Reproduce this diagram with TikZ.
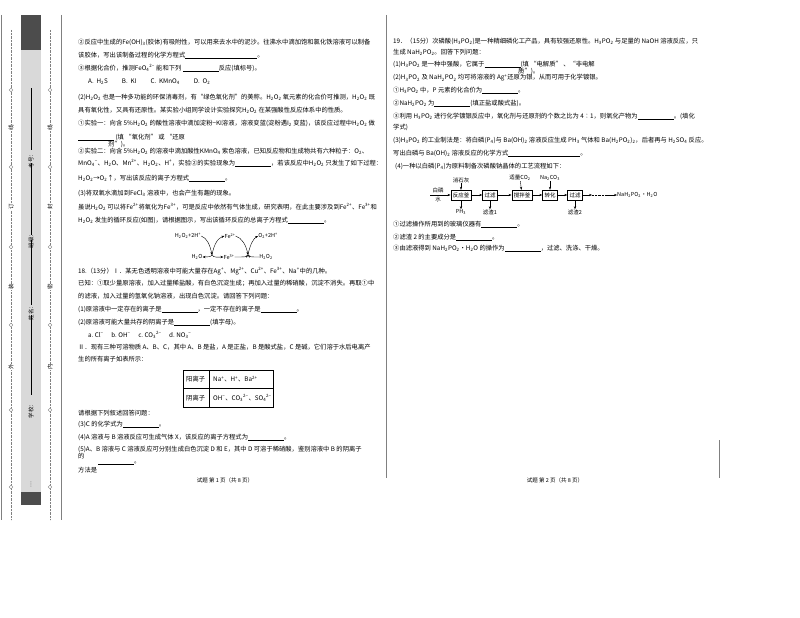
\documentclass[tikz,border=0pt]{standalone}
\usepackage{fontspec}
\setmainfont{Liberation Serif}
\newfontfamily\cjk{Noto Sans CJK SC}
\usetikzlibrary{arrows.meta}
\newcommand{\dn}[1]{\textsubscript{#1}}
\newcommand{\up}[1]{\textsuperscript{#1}}
\newcommand{\blank}{\rule[-1pt]{36pt}{0.4pt}}
\begin{document}
\begin{tikzpicture}[x=1pt,y=-1pt,
  tl/.style={anchor=west,inner sep=0pt,font=\cjk\fontsize{6.3}{7}\selectfont},
  sm/.style={inner sep=0pt,font=\cjk\fontsize{5.5}{6}\selectfont},
  fbox/.style={draw,inner sep=2pt,font=\cjk\fontsize{5.5}{6}\selectfont,minimum height=10pt},
  ar/.style={-{Stealth[length=3pt]},line width=0.4pt}]
\useasboundingbox (0,0) rectangle (800,618);
\fill[white] (0,0) rectangle (800,618);
% sidebar
\draw[gray,line width=0.6pt] (1,15) -- (1,520);
\fill[gray!30] (21,15) rectangle (41,505);
\fill[black!70] (21,15) rectangle (41,50);
\fill[black!70] (21,492) rectangle (41,505);
\draw[gray,line width=0.6pt] (61,15) -- (61,520);
\draw[densely dotted,gray] (11,30) -- (11,520);
\draw[densely dotted,gray] (50,30) -- (50,520);
\foreach \y in {90,167,247,325,410,487}{
  \node[draw,gray,circle,fill=white,inner sep=1.3pt] (cl\y) at (11,\y) {};
  \node[draw,gray,circle,fill=white,inner sep=1.3pt] (cr\y) at (50,\y) {};}
\foreach \y/\t in {128/线,207/订,287/装,367/外}{\node[sm,fill=white,rotate=90] (ll\y) at (11,\y) {\t};}
\foreach \y/\t in {128/线,207/封,287/密,367/内}{\node[sm,fill=white,rotate=90] (rl\y) at (50,\y) {\t};}
\foreach \a/\b in {88/150,163/235,240/305,315/395}{\draw[line width=0.7pt] (31,\a) -- (31,\b);}
\node[sm,rotate=90] (s1) at (31,160) {考号：};
\node[sm,rotate=90] (s2) at (31,240) {班级：};
\node[sm,rotate=90] (s3) at (31,312) {姓名：};
\node[sm,rotate=90] (s4) at (31,410) {学校：};
\node[sm,rotate=90] (s5) at (31,485) {…};
% column divider
\draw[gray,line width=0.6pt] (386,15) -- (386,478);
\draw[gray,line width=0.6pt] (719,440) -- (719,478);
% left column
\node[tl] (a1) at (78,42) {②反应中生成的Fe(OH)\dn{3}(胶体)有吸附性，可以用来去水中的泥沙。往沸水中滴加饱和氯化铁溶液可以制备};
\node[tl] (a2) at (78,55) {该胶体，写出该制备过程的化学方程式\blank\blank 。};
\node[tl] (a3) at (78,68) {③根据化合价，推测FeO\dn{4}\up{2−} 能和下列 \blank 反应(填标号)。};
\node[tl] (a4) at (88,82) {A.\ \ H\dn{2}S \qquad B.\ \ KI \qquad C.\ \ KMnO\dn{4} \qquad D.\ \ O\dn{2}};
\node[tl] (a5) at (78,97) {(2)H\dn{2}O\dn{2} 也是一种多功能的环保消毒剂，有“绿色氧化剂”的美称。H\dn{2}O\dn{2} 氧元素的化合价可推测，H\dn{2}O\dn{2} 既};
\node[tl] (a6) at (78,110) {具有氧化性，又具有还原性。某实验小组同学设计实验探究H\dn{2}O\dn{2} 在某强酸性反应体系中的性质。};
\node[tl] (a7) at (78,123) {①实验一：向含 5\%H\dn{2}O\dn{2} 的酸性溶液中滴加淀粉−KI溶液，溶液变蓝(淀粉遇I\dn{2} 变蓝)，该反应过程中H\dn{2}O\dn{2} 做};
\node[tl] (a8) at (78,137) {\blank\ (填 “氧化剂” 或 “还原};
\node[tl] (a8b) at (108,144) {剂”)。};
\node[tl] (a9) at (78,151) {②实验二：向含 5\%H\dn{2}O\dn{2} 的溶液中滴加酸性KMnO\dn{4} 紫色溶液，已知反应物和生成物共有六种粒子：O\dn{2}、};
\node[tl] (a10) at (78,163) {MnO\dn{4}\up{−}、H\dn{2}O、Mn\up{2+}、H\dn{2}O\dn{2}、H\up{+}，实验②的实验现象为\blank ，若该反应中H\dn{2}O\dn{2} 只发生了如下过程：};
\node[tl] (a11) at (78,178) {H\dn{2}O\dn{2}→O\dn{2}↑，写出该反应的离子方程式\blank 。};
\node[tl] (a12) at (78,193) {(3)将双氧水滴加到FeCl\dn{3} 溶液中，也会产生有趣的现象。};
\node[tl] (a13) at (78,207) {虽说H\dn{2}O\dn{2} 可以将Fe\up{2+}将氧化为Fe\up{3+}，可是反应中依然有气体生成，研究表明，在此主要涉及到Fe\up{2+}、Fe\up{3+}和};
\node[tl] (a14) at (78,220) {H\dn{2}O\dn{2} 发生的循环反应(如图)，请根据图示，写出该循环反应的总离子方程式\blank 。};
% cycle
\node[sm] (c1) at (188,236) {H\dn{2}O\dn{2}+2H\up{+}};
\node[sm] (c2) at (230,236) {Fe\up{2+}};
\node[sm] (c3) at (268,236) {O\dn{2}+2H\up{+}};
\node[sm] (c4) at (197,257) {H\dn{2}O};
\node[sm] (c5) at (229,257) {Fe\up{3+}};
\node[sm] (c6) at (266,257) {H\dn{2}O\dn{2}};
\coordinate (m1) at (212,255);
\coordinate (m2) at (248,255);
\draw[ar] (c1.east) .. controls (207,238) and (210,245) .. (m1);
\draw[ar] (m1) .. controls (214,244) and (218,238) .. (c2.west);
\draw[ar] (c2.east) .. controls (242,238) and (246,245) .. (m2);
\draw[ar] (m2) .. controls (250,244) and (254,238) .. (c3.west);
\draw[ar] (m1) .. controls (211,257) and (207,257) .. (c4.east);
\draw[ar] (m1) .. controls (214,258) and (218,257) .. (c5.west);
\draw[ar] (c5.east) .. controls (242,257) and (246,257) .. (m2);
\draw[ar] (c6.west) .. controls (254,257) and (250,257) .. (m2);
\node[tl] (b1) at (78,271) {18.（13分）Ⅰ．某无色透明溶液中可能大量存在Ag\up{+}、Mg\up{2+}、Cu\up{2+}、Fe\up{3+}、Na\up{+}中的几种。};
\node[tl] (b2) at (78,283) {已知：①取少量原溶液，加入过量稀盐酸，有白色沉淀生成；再加入过量的稀硝酸，沉淀不消失。再取①中};
\node[tl] (b3) at (78,296) {的滤液，加入过量的氢氧化钠溶液，出现白色沉淀。请回答下列问题：};
\node[tl] (b4) at (78,309) {(1)原溶液中一定存在的离子是\blank ，一定不存在的离子是\blank 。};
\node[tl] (b5) at (78,322) {(2)原溶液可能大量共存的阴离子是\blank (填字母)。};
\node[tl] (b6) at (88,335) {a.\ Cl\up{−} \quad b.\ OH\up{−} \quad c.\ CO\dn{3}\up{2−} \quad d.\ NO\dn{3}\up{−}};
\node[tl] (b7) at (78,347) {Ⅱ．现有三种可溶物质 A、B、C，其中 A、B 是盐，A 是正盐，B 是酸式盐，C 是碱，它们溶于水后电离产};
\node[tl] (b8) at (78,359) {生的所有离子如表所示：};
\draw[line width=0.5pt] (183,370) rectangle (273,407);
\draw[line width=0.5pt] (209,370) -- (209,407) (183,388.5) -- (273,388.5);
\node[tl] (t1) at (186,379) {阳离子};
\node[tl] (t2) at (213,379) {Na\up{+}、H\up{+}、Ba\up{2+}};
\node[tl] (t3) at (186,398) {阴离子};
\node[tl] (t4) at (213,398) {OH\up{−}、CO\dn{3}\up{2−}、SO\dn{4}\up{2−}};
\node[tl] (b9) at (78,413) {请根据下列叙述回答问题：};
\node[tl] (b10) at (78,424) {(3)C 的化学式为\blank 。};
\node[tl] (b11) at (78,437) {(4)A 溶液与 B 溶液反应可生成气体 X，该反应的离子方程式为\blank 。};
\node[tl] (b12) at (78,449) {(5)A、B 溶液与 C 溶液反应可分别生成白色沉淀 D 和 E，其中 D 可溶于稀硝酸，鉴别溶液中 B 的阴离子};
\node[tl] (b13) at (78,456) {的};
\node[tl] (b14) at (98,463) {\blank 。};
\node[tl] (b15) at (78,470) {方法是};
\node[sm] (f1) at (225,480) {试题\ 第 1 页（共 8 页）};
% right column
\node[tl] (r1) at (393,41) {19．（15分）次磷酸(H\dn{3}PO\dn{2})是一种精细磷化工产品，具有较强还原性。H\dn{3}PO\dn{2} 与足量的 NaOH 溶液反应，只};
\node[tl] (r2) at (393,52) {生成 NaH\dn{2}PO\dn{2}。回答下列问题：};
\node[tl] (r3) at (393,64) {(1)H\dn{3}PO\dn{2} 是一种中强酸，它属于\blank (填 “电解质” 、“非电解};
\node[tl] (r3b) at (518,71) {质”)。};
\node[tl] (r4) at (393,78) {(2)H\dn{3}PO\dn{2} 及 NaH\dn{2}PO\dn{2} 均可将溶液的 Ag\up{+}还原为银，从而可用于化学镀银。};
\node[tl] (r5) at (393,90) {①H\dn{3}PO\dn{2} 中，P 元素的化合价为\blank 。};
\node[tl] (r6) at (393,103) {②NaH\dn{2}PO\dn{2} 为\blank (填正盐或酸式盐)。};
\node[tl] (r7) at (393,116) {③利用 H\dn{3}PO\dn{2} 进行化学镀银反应中，氧化剂与还原剂的个数之比为 4∶1，则氧化产物为\blank 。(填化};
\node[tl] (r8) at (393,127) {学式)};
\node[tl] (r9) at (393,140) {(3)H\dn{3}PO\dn{2} 的工业制法是：将白磷(P\dn{4})与 Ba(OH)\dn{2} 溶液反应生成 PH\dn{3} 气体和 Ba(H\dn{2}PO\dn{2})\dn{2}，后者再与 H\dn{2}SO\dn{4} 反应。};
\node[tl] (r10) at (393,153) {写出白磷与 Ba(OH)\dn{2} 溶液反应的化学方式\blank\blank 。};
\node[tl] (r11) at (395,166) {(4)一种以白磷(P\dn{4})为原料制备次磷酸钠晶体的工艺流程如下：};
% flow
\node[sm,align=center] (w) at (438,195) {白磷\\[3pt]水};
\node[fbox] (k1) at (461,195) {反应釜};
\node[fbox] (k2) at (490,195) {过滤};
\node[fbox] (k3) at (522,195) {搅拌釜};
\node[fbox] (k4) at (550,195) {转化};
\node[fbox] (k5) at (575,195) {过滤};
\coordinate (d1) at (592,195);
\coordinate (d2) at (606,195);
\node[sm,anchor=west] (p) at (617,195) {NaH\dn{2}PO\dn{2}·H\dn{2}O};
\draw (430,195) -- (w.east);
\draw[ar] (w.east) -- (k1);
\draw[ar] (k1) -- (k2); \draw[ar] (k2) -- (k3); \draw[ar] (k3) -- (k4); \draw[ar] (k4) -- (k5);
\draw[ar] (k5) -- (d1); \draw[densely dotted] (d1) -- (d2); \draw[ar] (d2) -- (p.west);
\node[sm] (u1) at (461,180) {消石灰};
\node[sm] (u2) at (520,178) {适量CO\dn{2}};
\node[sm] (u3) at (550,178) {Na\dn{2}CO\dn{3}};
\draw[ar] (u1) -- (k1); \draw[ar] (u2) -- (k3); \draw[ar] (u3) -- (k4);
\node[sm] (v1) at (461,212) {PH\dn{3}};
\node[sm] (v2) at (490,212) {滤渣1};
\node[sm] (v3) at (575,212) {滤渣2};
\draw[ar] (k1) -- (v1); \draw[ar] (k2) -- (v2); \draw[ar] (k5) -- (v3);
\node[tl] (r12) at (393,224) {①过滤操作所用到的玻璃仪器有\blank 。};
\node[tl] (r13) at (393,237) {②滤渣 2 的主要成分是\blank 。};
\node[tl] (r14) at (393,248) {③由滤液得到 NaH\dn{2}PO\dn{2}·H\dn{2}O 的操作为\blank ，过滤、洗涤、干燥。};
\node[sm] (f2) at (555,480) {试题\ 第 2 页（共 8 页）};
\end{tikzpicture}
\end{document}
